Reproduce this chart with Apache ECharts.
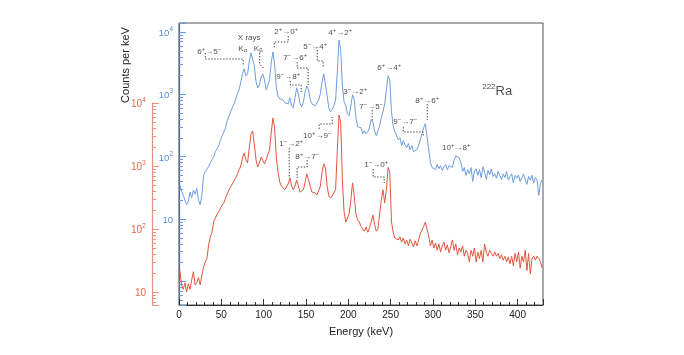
<!DOCTYPE html>
<html>
<head>
<meta charset="utf-8">
<script src="https://cdn.jsdelivr.net/npm/echarts@6/dist/echarts.min.js"></script>
<style>
html,body{margin:0;padding:0;background:#fff;}
#chart{width:684px;height:355px;}
</style>
</head>
<body>
<div id="chart"></div>
<script>
// ---------- data ----------
const energies = [
1,3,5,7,9,11,13,15,17,19,21,23,25,27,29,31,33,35,37,39,
41,43,45,47,49,51,53,55,57,59,61,63,65,67,69,71,73,75,77,79,
81,83,85,87,89,91,93,95,97,99,101,103,105,107,109,111,113,115,117,119,
121,123,125,127,129,131,133,135,137,139,141,143,145,147,149,151,153,155,157,159,
161,163,165,167,169,171,173,175,177,179,181,183,185,187,189,191,193,195,197,199,
201,203,205,207,209,211,213,215,217,219,221,223,225,227,229,231,233,235,237,239,
241,243,245,247,249,251,253,255,257,259,261,263,265,267,269,271,273,275,277,279,
281,283,285,287,289,291,293,295,297,299,301,303,305,307,309,311,313,315,317,319,
321,323,325,327,329,331,333,335,337,339,341,343,345,347,349,351,353,355,357,359,
361,363,365,367,369,371,373,375,377,379,381,383,385,387,389,391,393,395,397,399,
401,403,405,407,409,411,413,415,417,419,421,423,425,427,429
];
const blueCounts = [
35,28,24,20,17,19,27,22,29,25,31,20,17,24,
50,58,62,69,80,90,100,120,134,150,187,217,251,291,377,405,525,608,705,847,1018,1180,1585,
2135,2560,1980,2135,3311,4613,4450,2858,1585,1270,1420,1905,2135,1706,1180,1096,1706,3311,4786,2965,1270,946,847,787,817,731,731,705,
879,655,608,879,1270,1018,705,631,759,1096,1368,1180,817,705,655,655,705,817,1018,1585,2135,2046,946,608,525,566,655,817,2290,
7400,5200,1368,759,655,488,453,655,982,817,421,302,281,291,233,261,233,251,291,391,363,261,217,233,313,421,525,705,1180,1980,1706,525,313,251,217,187,202,150,180,155,140,162,129,150,120,112,129,150,187,233,291,338,325,129,
80,67,72,62,75,64,72,60,69,75,62,72,77,67,89,103,108,96,80,58,67,50,62,53,67,40,58,64,50,62,46,69,56,43,60,51,64,48,53,45,58,50,43,53,46,58,42,48,53,38,50,45,51,40,46,53,43,36,48,42,50,38,46,42,24,37,43
];
const redCounts = [
22,13,11,14,10,13.5,11,15.5,21,13,14,17,13,18.5,
25,30,34,56,75,89,129,150,173,187,215,240,260,310,360,420,465,520,580,650,750,870,1000,
1340,1610,1250,1120,1930,3220,3600,2150,1250,965,1120,1390,1340,1080,1250,1550,1800,3470,5780,4010,1340,800,560,480,450,420,450,520,
650,480,420,480,600,480,385,373,420,560,750,700,480,385,360,373,346,360,480,800,1080,930,480,335,310,335,320,420,1800,
6450,5000,600,187,129,150,173,290,540,335,173,139,129,110,104,92,107,89,104,129,166,120,92,100,173,290,420,260,420,950,800,129,89,72,77,67,75,62,72,58,67,54,69,60,52,65,54,67,83,96,110,129,120,77,
54,67,50,60,46,58,43,54,62,46,56,42,52,67,46,58,39,50,43,54,37,46,41,30,46,37,50,30,43,34,46,30,58,43,37,46,41,37,43,37,41,34,39,32,37,30,36,28,37,26,41,30,43,24,37,30,46,22,41,19.5,34,37,32,37,34,30,24
];
const xTicks = [0,50,100,150,200,250,300,350,400];

// annotation texts, anchored in (energy, blue-axis counts)
const annotationLabels = ['6⁺→5⁻','X rays','Kα','Kβ','2⁺→0⁺','7⁻→6⁺','9⁻→8⁺','5⁻→4⁺','4⁺→2⁺','3⁻→2⁺','7⁻→5⁻','6⁺→4⁺','8⁺→6⁺','9⁻→7⁻','10⁺→8⁺','10⁺→9⁻','1⁻→2⁺','8⁺→7⁻','1⁻→0⁺'];
const annotationEnergy = [35.7,82.9,75.3,93.6,126.6,137.3,129.0,160.9,190.4,208.2,227.0,248.4,293.3,267.3,327.5,163.3,132.5,151.4,232.9];
const annotationCounts = [4955,8310,5530,5530,10380,3970,1967,5960,10000,1130,650,2740,811,373,143,223,166,103,76];
const isotopeLabel = '²²²Ra';
const isotopeAnchor = [375.9, 1173];

// dotted leader lines, (energy, blue-axis counts)
const leaders = [
  [[31.0,4600],[31.0,3690],[75.8,3690],[75.8,2960]],
  [[95.3,4600],[95.3,3070],[99.5,2640]],
  [[129.0,8630],[129.0,6910],[112.5,6910],[112.5,5530]],
  [[139.6,3300],[139.6,2640],[152.6,2640],[152.6,1410]],
  [[131.4,1637],[131.4,1410],[144.4,1410],[144.4,1090]],
  [[163.3,5140],[163.3,3430],[170.3,3430],[170.3,2740]],
  [[228.2,561],[228.2,360]],
  [[293.3,700],[293.3,387]],
  [[264.9,299],[264.9,249],[288.5,249],[288.5,207]],
  [[165.6,278],[165.6,334],[181.0,334],[181.0,433]],
  [[130.2,138],[130.2,45.5]],
  [[151.4,88.3],[151.4,68.2],[139.6,68.2],[139.6,45.5]],
  [[229.4,63.4],[229.4,47.2],[242.4,47.2],[242.4,37.8]]
];

// ---------- helpers ----------
const FONT = 'Liberation Sans, Arial, Helvetica, sans-serif';
const BLUE = '#6e9de0', RED = '#e2563f';
const BLUE_TXT = '#5b8ed8', RED_TXT = '#e4684f';

function powLabel(v) {
  const e = Math.round(Math.log10(v));
  if (e < 1 || Math.abs(v - Math.pow(10, e)) > 1e-6 * v) return '';
  return e === 1 ? '{n|10}' : '{n|10}{s|' + e + '}';
}
function richify(t) {
  let out = '', buf = '';
  const flush = () => { if (buf) { out += '{n|' + buf + '}'; buf = ''; } };
  for (const ch of t) {
    if (ch === '⁺') { flush(); out += '{s|+}'; }
    else if (ch === '⁻') { flush(); out += '{s|−}'; }
    else if (ch === 'α' || ch === 'β') { flush(); out += '{b|' + ch + '}'; }
    else buf += ch;
  }
  flush();
  return out;
}
function axisRich(color, fs) {
  return {
    n: {fontSize: fs, color: color, fontFamily: FONT, lineHeight: fs + 3, verticalAlign: 'bottom'},
    s: {fontSize: fs - 3, color: color, fontFamily: FONT, lineHeight: fs - 3, verticalAlign: 'top'}
  };
}

const series = [
  {
    type: 'line', xAxisIndex: 0, yAxisIndex: 0, showSymbol: false, symbol: 'none',
    data: energies.map((e, i) => [e, blueCounts[i]]),
    lineStyle: {color: BLUE, width: 1}, silent: true, z: 3
  },
  {
    type: 'line', xAxisIndex: 1, yAxisIndex: 1, showSymbol: false, symbol: 'none',
    data: energies.map((e, i) => [e, redCounts[i]]),
    lineStyle: {color: RED, width: 1}, silent: true, z: 3
  }
];
leaders.forEach(seg => {
  series.push({
    type: 'line', xAxisIndex: 0, yAxisIndex: 0, symbol: 'none', silent: true, z: 6,
    data: seg,
    lineStyle: {color: '#444', width: 1, type: [1.4, 1.6]}
  });
});
series.push({
  type: 'scatter', xAxisIndex: 0, yAxisIndex: 0, symbolSize: 1, silent: true, z: 8,
  itemStyle: {color: 'rgba(0,0,0,0)'},
  data: annotationLabels.map((t, i) => ({name: t, value: [annotationEnergy[i], annotationCounts[i]]})),
  label: {
    show: true, position: 'inside',
    formatter: p => richify(p.name),
    rich: {
      n: {fontSize: 8, color: '#222', fontFamily: FONT, lineHeight: 10, verticalAlign: 'bottom'},
      s: {fontSize: 6, color: '#222', fontFamily: FONT, lineHeight: 5, verticalAlign: 'top'},
      b: {fontSize: 6, color: '#222', fontFamily: FONT, lineHeight: 6, verticalAlign: 'bottom'}
    }
  }
});
series.push({
  type: 'scatter', xAxisIndex: 0, yAxisIndex: 0, symbolSize: 1, silent: true, z: 8,
  itemStyle: {color: 'rgba(0,0,0,0)'},
  data: [{name: isotopeLabel, value: isotopeAnchor}],
  label: {
    show: true, position: 'inside',
    formatter: p => '{s|' + p.name.slice(0, 3).replace(/²/g, '2') + '}{n|' + p.name.slice(3) + '}',
    rich: {
      n: {fontSize: 13, color: '#222', fontFamily: FONT, lineHeight: 15, verticalAlign: 'bottom'},
      s: {fontSize: 8, color: '#222', fontFamily: FONT, lineHeight: 8, verticalAlign: 'top'}
    }
  }
});

const option = {
  animation: false,
  backgroundColor: '#fff',
  grid: [
    {left: 179, right: 141, top: 23, bottom: 50, show: true, borderColor: '#555', borderWidth: 1, backgroundColor: 'transparent'},
    {left: 179, right: 141, top: 103, bottom: 50, show: false}
  ],
  xAxis: [
    {
      gridIndex: 0, type: 'value', min: 0, max: 430, interval: 50,
      name: 'Energy (keV)', nameLocation: 'middle', nameGap: 21,
      nameTextStyle: {fontSize: 11, color: '#222', fontFamily: FONT},
      axisLine: {show: true, onZero: false, lineStyle: {color: '#333', width: 1}},
      axisTick: {show: true, inside: true, length: 6, lineStyle: {color: '#333'}},
      minorTick: {show: true, splitNumber: 5, length: 3, lineStyle: {color: '#333'}},
      splitLine: {show: false},
      axisLabel: {fontSize: 10, color: '#222', fontFamily: FONT, margin: 5,
        formatter: v => xTicks.indexOf(v) >= 0 ? String(v) : ''}
    },
    {gridIndex: 1, type: 'value', min: 0, max: 430, show: false}
  ],
  yAxis: [
    {
      gridIndex: 0, type: 'log', logBase: 10, min: 0.417, max: 13940,
      axisLine: {show: true, onZero: false, lineStyle: {color: '#4a6a9c', width: 1.2}},
      axisTick: {show: true, inside: true, length: 7, lineStyle: {color: '#6f98d6', width: 1}},
      minorTick: {show: true, splitNumber: 9, length: 4, lineStyle: {color: '#6f98d6', width: 1}},
      splitLine: {show: false},
      axisLabel: {margin: 6, formatter: powLabel, rich: axisRich(BLUE_TXT, 9.5)}
    },
    {
      gridIndex: 1, type: 'log', logBase: 10, min: 6.22, max: 10000, offset: 27,
      axisLine: {show: true, onZero: false, lineStyle: {color: '#e9907e', width: 1.2}},
      axisTick: {show: true, inside: true, length: 7, lineStyle: {color: '#e9907e', width: 1}},
      minorTick: {show: true, splitNumber: 9, length: 4, lineStyle: {color: '#e9907e', width: 1}},
      splitLine: {show: false},
      axisLabel: {margin: 6, formatter: powLabel, rich: axisRich(RED_TXT, 10)}
    }
  ],
  graphic: [
    {type: 'text', x: 126, y: 65, rotation: Math.PI / 2, silent: true,
     style: {text: 'Counts per keV', fontSize: 11, fill: '#222', fontFamily: FONT, align: 'center', verticalAlign: 'middle'}}
  ],
  series: series
};

const chart = echarts.init(document.getElementById('chart'), null, {renderer: 'canvas'});
chart.setOption(option);
</script>
</body>
</html>
